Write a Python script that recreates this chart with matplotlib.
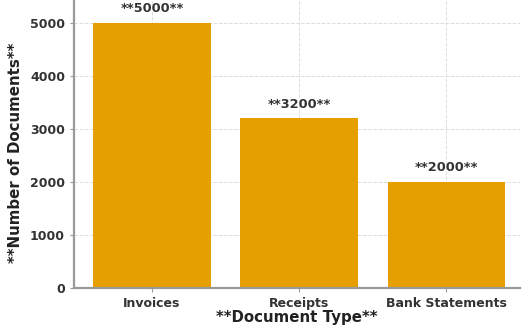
import matplotlib.pyplot as plt

doc_types = ["Invoices", "Receipts", "Bank Statements"]
counts = [5000, 3200, 2000]
bar_color = "#E69F00"

fig = plt.figure(figsize=(5.25, 3.29), dpi=100)
ax = fig.add_axes([74 / 525, 41 / 329, 446 / 525, 288 / 329])

ax.grid(True, color="#dddddd", linestyle="--", linewidth=0.7, zorder=0)
bars = ax.bar(doc_types, counts, width=0.8, color=bar_color, zorder=2)

for b, v in zip(bars, counts):
    ax.text(b.get_x() + b.get_width() / 2, v + 140, f"**{v}**",
            ha="center", va="bottom", fontsize=9.3, fontweight="bold",
            color="#333333")

ax.set_xlim(-0.53, 2.5)
ax.set_ylim(0, 5430)
ax.set_yticks([0, 1000, 2000, 3000, 4000, 5000])

for s in ["top", "right"]:
    ax.spines[s].set_visible(False)
for s in ["left", "bottom"]:
    ax.spines[s].set_color("#999999")
    ax.spines[s].set_linewidth(1.6)

ax.tick_params(axis="both", labelsize=9, colors="#999999", labelcolor="#333333", length=3)
for lab in ax.get_xticklabels() + ax.get_yticklabels():
    lab.set_fontweight("bold")

ax.set_xlabel("**Document Type**", fontsize=10.8, fontweight="bold", color="#222222", labelpad=0)
ax.set_ylabel("**Number of Documents**", fontsize=10.8, fontweight="bold", color="#222222")
ax.yaxis.set_label_coords(-0.115, 0.47)

fig.savefig("out.png", dpi=100)
